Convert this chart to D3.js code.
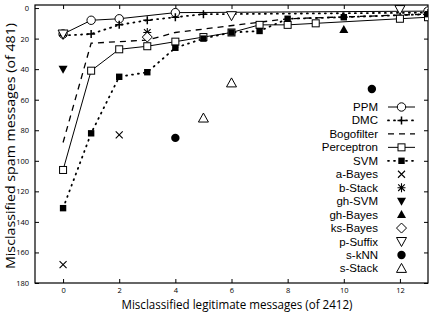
<!DOCTYPE html>
<html>
<head>
<meta charset="utf-8">
<script src="https://cdn.jsdelivr.net/npm/d3@7"></script>
<style>
  body { margin: 0; background: #fff; }
  svg { display: block; font-family: "Open Sans", sans-serif; }
</style>
</head>
<body>
<div id="chart"></div>
<script>
// Dati: [errori legittimi, errori spam]
const ppm = [[0, 17], [1, 8], [2, 7], [4, 3], [13, 2]];
const dmc = [[0, 18], [1, 17], [2, 11], [3, 8], [4, 6], [5, 4], [13, 3]];
const bogofilter = [[0, 88], [1, 23], [3, 21], [4, 16], [8, 7], [13, 4]];
const perceptron = [[0, 106], [1, 41], [2, 27], [3, 25], [4, 22], [5, 19], [6, 16], [7, 11], [8, 11], [9, 10], [12, 7], [13, 6]];
const svmData = [[0, 131], [1, 82], [2, 45], [3, 42], [4, 26], [5, 20], [6, 16], [7, 15], [8, 7], [10, 6], [13, 4]];

const aBayes = [[0, 168], [2, 83]];
const bStack = [[3, 16]];
const ghSVM = [[0, 40]];
const ghBayes = [[10, 14]];
const ksBayes = [[3, 19]];
const pSuffix = [[0, 17], [6, 5], [12, 1]];
const sKNN = [[4, 85], [11, 53]];
const sStack = [[5, 72], [6, 49]];

const xTicks = [0, 2, 4, 6, 8, 10, 12];
const yTicks = [0, 20, 40, 60, 80, 100, 120, 140, 160, 180];

const width = 430;
const height = 312;
const margin = { left: 35, right: 2, top: 5, bottom: 29 };

const svg = d3.select("#chart").append("svg").attr("width", width).attr("height", height);

const x = d3.scaleLinear().domain([-1, 13]).range([margin.left, width - margin.right]);
const y = d3.scaleLinear().domain([-2, 180]).range([margin.top, height - margin.bottom]);

// clip per le linee che escono dal riquadro
svg.append("clipPath").attr("id", "clip")
  .append("rect")
  .attr("x", x(-1)).attr("y", y(-2))
  .attr("width", x(13) - x(-1)).attr("height", y(180) - y(-2));

// Assi con tacche verso l'interno su tutti i lati
const tickLen = 4;
svg.append("g").attr("transform", `translate(0,${y(180)})`)
  .call(d3.axisBottom(x).tickValues(xTicks).tickSize(-tickLen).tickPadding(5))
  .call(g => g.select(".domain").remove());
svg.append("g").attr("transform", `translate(0,${y(-2)})`)
  .call(d3.axisTop(x).tickValues(xTicks).tickSize(-tickLen).tickFormat(""))
  .call(g => g.select(".domain").remove());
svg.append("g").attr("transform", `translate(${x(-1)},0)`)
  .call(d3.axisLeft(y).tickValues(yTicks).tickSize(-tickLen).tickPadding(6))
  .call(g => g.select(".domain").remove());
svg.append("g").attr("transform", `translate(${x(13)},0)`)
  .call(d3.axisRight(y).tickValues(yTicks).tickSize(-tickLen).tickFormat(""))
  .call(g => g.select(".domain").remove());

svg.selectAll(".tick text").attr("font-size", 7.5).attr("fill", "#000").attr("font-family", "Open Sans, sans-serif");
svg.selectAll(".tick line").attr("stroke", "#000");

svg.append("rect")
  .attr("x", x(-1)).attr("y", y(-2))
  .attr("width", x(13) - x(-1)).attr("height", y(180) - y(-2))
  .attr("fill", "none").attr("stroke", "#000").attr("stroke-width", 1.2);

// Titoli degli assi
svg.append("text")
  .attr("x", 237).attr("y", 309)
  .attr("text-anchor", "middle")
  .attr("font-size", 12)
  .attr("textLength", 231).attr("lengthAdjust", "spacingAndGlyphs")
  .text("Misclassified legitimate messages (of 2412)");
svg.append("text")
  .attr("transform", "translate(15,146) rotate(-90)")
  .attr("text-anchor", "middle")
  .attr("font-size", 13)
  .attr("textLength", 246).attr("lengthAdjust", "spacingAndGlyphs")
  .text("Misclassified spam messages (of 481)");

// Simboli
function marker(g, type, cx, cy) {
  if (type === "circleOpen") {
    g.append("circle").attr("cx", cx).attr("cy", cy).attr("r", 4.2).attr("fill", "#fff").attr("stroke", "#000");
  } else if (type === "circleFill") {
    g.append("circle").attr("cx", cx).attr("cy", cy).attr("r", 4.2).attr("fill", "#000");
  } else if (type === "plus") {
    g.append("path").attr("d", `M${cx - 4},${cy}H${cx + 4}M${cx},${cy - 4}V${cy + 4}`).attr("stroke", "#000").attr("stroke-width", 1.5);
  } else if (type === "squareOpen") {
    g.append("rect").attr("x", cx - 3.5).attr("y", cy - 3.5).attr("width", 7).attr("height", 7).attr("fill", "#fff").attr("stroke", "#000");
  } else if (type === "squareFill") {
    g.append("rect").attr("x", cx - 3.2).attr("y", cy - 3.2).attr("width", 6.4).attr("height", 6.4).attr("fill", "#000");
  } else if (type === "cross") {
    g.append("path").attr("d", `M${cx - 3.5},${cy - 3.5}L${cx + 3.5},${cy + 3.5}M${cx - 3.5},${cy + 3.5}L${cx + 3.5},${cy - 3.5}`).attr("stroke", "#000").attr("stroke-width", 1.1);
  } else if (type === "star") {
    g.append("path").attr("d", `M${cx - 4},${cy}H${cx + 4}M${cx},${cy - 4.5}V${cy + 4.5}M${cx - 3.3},${cy - 3.3}L${cx + 3.3},${cy + 3.3}M${cx - 3.3},${cy + 3.3}L${cx + 3.3},${cy - 3.3}`).attr("stroke", "#000").attr("stroke-width", 1.1);
  } else if (type === "triDownFill") {
    g.append("path").attr("d", `M${cx - 4.5},${cy - 3.5}L${cx + 4.5},${cy - 3.5}L${cx},${cy + 4.5}Z`).attr("fill", "#000");
  } else if (type === "triUpFill") {
    g.append("path").attr("d", `M${cx - 4.5},${cy + 3.5}L${cx + 4.5},${cy + 3.5}L${cx},${cy - 4.5}Z`).attr("fill", "#000");
  } else if (type === "diamond") {
    g.append("path").attr("d", `M${cx},${cy - 5}L${cx + 5},${cy}L${cx},${cy + 5}L${cx - 5},${cy}Z`).attr("fill", "#fff").attr("stroke", "#000");
  } else if (type === "triDownOpen") {
    g.append("path").attr("d", `M${cx - 5},${cy - 4}L${cx + 5},${cy - 4}L${cx},${cy + 5}Z`).attr("fill", "#fff").attr("stroke", "#000");
  } else if (type === "triUpOpen") {
    g.append("path").attr("d", `M${cx - 5},${cy + 4}L${cx + 5},${cy + 4}L${cx},${cy - 5}Z`).attr("fill", "none").attr("stroke", "#000");
  }
}

const lineSeries = [
  { name: "PPM", data: ppm, dash: null, mk: "circleOpen" },
  { name: "DMC", data: dmc, dash: "1,5", mk: "plus", width: 1.8 },
  { name: "Bogofilter", data: bogofilter, dash: "6,5", mk: null, width: 1.3 },
  { name: "Perceptron", data: perceptron, dash: null, mk: "squareOpen" },
  { name: "SVM", data: svmData, dash: "1,5", mk: "squareFill", width: 1.8 },
];

const pointSeries = [
  { name: "a-Bayes", data: aBayes, mk: "cross" },
  { name: "b-Stack", data: bStack, mk: "star" },
  { name: "gh-SVM", data: ghSVM, mk: "triDownFill" },
  { name: "gh-Bayes", data: ghBayes, mk: "triUpFill" },
  { name: "ks-Bayes", data: ksBayes, mk: "diamond" },
  { name: "p-Suffix", data: pSuffix, mk: "triDownOpen" },
  { name: "s-kNN", data: sKNN, mk: "circleFill" },
  { name: "s-Stack", data: sStack, mk: "triUpOpen" },
];

const line = d3.line().x(d => x(d[0])).y(d => y(d[1]));
const plot = svg.append("g").attr("clip-path", "url(#clip)");

lineSeries.forEach(s => {
  plot.append("path")
    .attr("d", line(s.data))
    .attr("fill", "none")
    .attr("stroke", "#000")
    .attr("stroke-width", s.width || 1)
    .attr("stroke-linecap", s.dash === "1,5" ? "round" : "butt")
    .attr("stroke-dasharray", s.dash);
});
lineSeries.forEach(s => {
  if (s.mk) s.data.forEach(d => marker(plot, s.mk, x(d[0]), y(d[1])));
});
pointSeries.forEach(s => {
  s.data.forEach(d => marker(plot, s.mk, x(d[0]), y(d[1])));
});

// Legenda (Liberation Sans: interlinea più bassa, niente sovrapposizioni)
const legend = svg.append("g");
const allSeries = [...lineSeries, ...pointSeries];
allSeries.forEach((s, i) => {
  const ly = 107 + i * 13.45;
  legend.append("text")
    .attr("x", 378).attr("y", ly + 4)
    .attr("text-anchor", "end")
    .attr("font-family", "Liberation Sans, Arial, sans-serif")
    .attr("font-size", 11.5)
    .text(s.name);
  if (s.dash !== undefined) {
    legend.append("path")
      .attr("d", `M388,${ly}H415`)
      .attr("stroke", "#000")
      .attr("stroke-width", s.width || 1)
      .attr("stroke-linecap", s.dash === "1,5" ? "round" : "butt")
      .attr("stroke-dasharray", s.dash);
  }
  if (s.mk) marker(legend, s.mk, 401.5, ly);
});
</script>
</body>
</html>
